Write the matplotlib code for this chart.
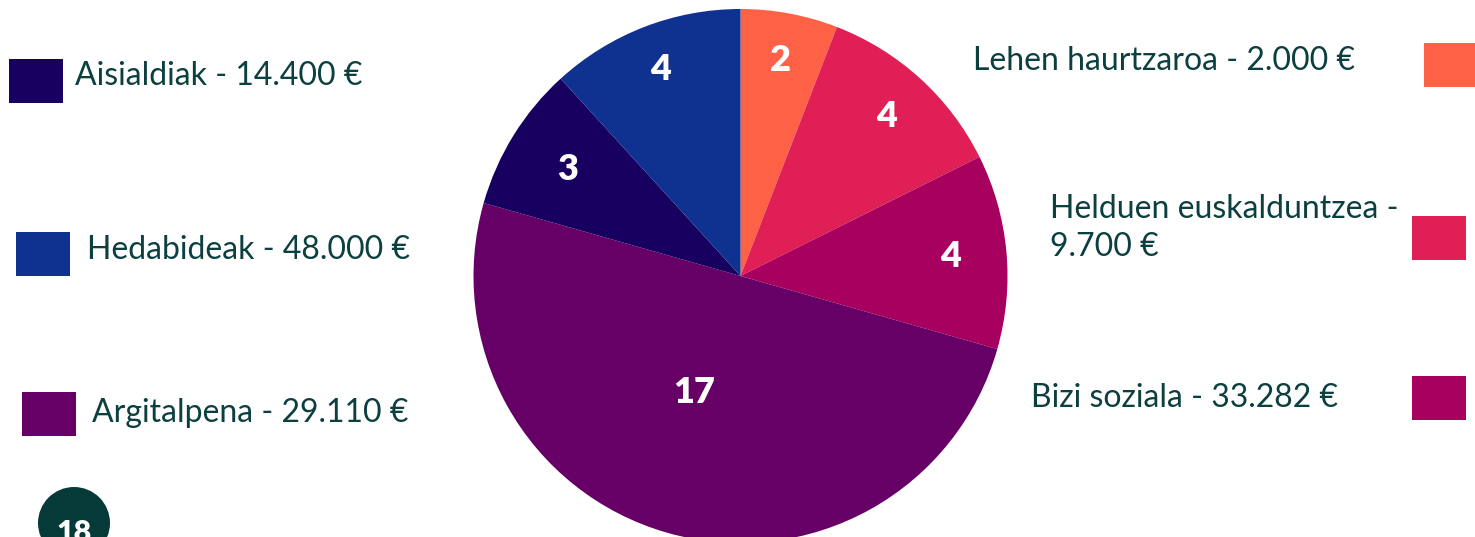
import matplotlib
matplotlib.use("Agg")
import matplotlib.pyplot as plt
from matplotlib.patches import Rectangle, Circle
import numpy as np

plt.rcParams['font.family'] = ['Lato', 'DejaVu Sans']

# slice values, clockwise from 12 o'clock
categories = ["Lehen haurtzaroa", "Helduen euskalduntzea", "Bizi soziala",
              "Argitalpena", "Aisialdiak", "Hedabideak"]
values = [2, 4, 4, 17, 3, 4]
amounts = ["2.000 €", "9.700 €", "33.282 €", "29.110 €", "14.400 €", "48.000 €"]
colors = ["#ff6146", "#e01f56", "#a8005f", "#660066", "#170060", "#0f318f"]
# label placement: fraction of radius, angle nudge (deg)
label_radius = [0.82, 0.81, 0.79, 0.47, 0.76, 0.83]
label_nudge = [0, 0, 0, 6, 0, 0]

text_color = "#0c3f3f"
W, H = 1475, 537

fig = plt.figure(figsize=(W / 100, H / 100), dpi=100)
ax = fig.add_axes([0, 0, 1, 1])

cx, cy, R = 740.5, 276, 267
wedges, _ = ax.pie(values, colors=colors, startangle=-90, counterclock=True,
                   center=(cx, cy), radius=R, wedgeprops=dict(linewidth=0))
for w, v, rf, nd in zip(wedges, values, label_radius, label_nudge):
    mid = np.deg2rad((w.theta1 + w.theta2) / 2 + nd)
    ax.text(cx + rf * R * np.cos(mid), cy + rf * R * np.sin(mid), str(v),
            ha='center', va='center', color='white', fontsize=26, fontweight='heavy')

ax.set_xlim(0, W)
ax.set_ylim(H, 0)
ax.set_aspect('equal')
ax.axis('off')

# legend entries: (category index, box x, box y, text x, text y)
left_items = [(4, 9, 59, 75, 76), (5, 16, 232, 87, 250), (3, 22, 392, 92, 413)]
right_items = [(0, 1424, 43, 973, 61), (1, 1412, 216, 1050, 228), (2, 1412, 376, 1031, 398)]
for i, bx, by, tx, ty in left_items + right_items:
    ax.add_patch(Rectangle((bx, by), 54, 44, color=colors[i], lw=0))
    txt = f"{categories[i]} - {amounts[i]}"
    if i == 1:
        txt = f"{categories[i]} -\n{amounts[i]}"
    ax.text(tx, ty, txt, ha='left', va='center', color=text_color, fontsize=23,
            linespacing=1.3)

# page number badge
ax.add_patch(Circle((74, 523), 36, color="#053a38", lw=0))
ax.text(74, 533, "18", ha='center', va='center', color='white', fontsize=22, fontweight='heavy')

fig.savefig("out.png", dpi=100)
